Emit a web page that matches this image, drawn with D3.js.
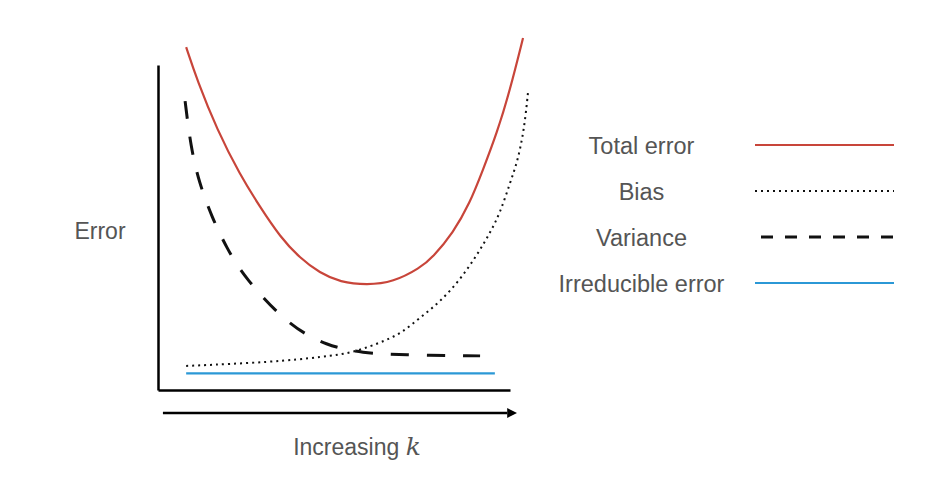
<!DOCTYPE html>
<html>
<head>
<meta charset="utf-8">
<script src="https://cdn.jsdelivr.net/npm/d3@7"></script>
<style>
  body { margin: 0; background: #fff; }
  svg text { font-family: "Liberation Sans", Arial, sans-serif; fill: #555; }
</style>
</head>
<body>
<div id="chart"></div>
<script>
// curve values (k on 0..100, error on 0..100)
const totalK   = [8, 11.1, 16.8, 23.3, 29, 34.7, 40.3, 46, 51.7, 59.4, 66.8, 74.4, 78.1, 83.8, 88.6, 92.3, 96.3, 100, 103.7];
const totalErr = [105.5, 95.4, 80, 66.2, 56.3, 47.1, 40.6, 36, 33.2, 32.3, 33.2, 37.5, 40.9, 48.3, 57.5, 67.7, 79.1, 92.3, 108.3];

const varianceK   = [7.7, 9.3, 11.7, 15.3, 19.5, 24.4, 36.9, 48, 58.2, 68.8, 91.5];
const varianceErr = [88.9, 74.8, 63.7, 53.2, 43.7, 34.8, 20, 13.5, 11.4, 10.8, 10.5];

const biasK   = [8, 32.7, 46.9, 55.4, 65.1, 69.6, 74.4, 80.1, 85.8, 90.6, 94.3, 97.2, 100, 102, 103.4, 104.3, 105.1];
const biasErr = [7.4, 8.6, 10.2, 11.4, 15.4, 17.9, 22.2, 27.1, 33.9, 41.5, 48.3, 54.5, 63.7, 69.9, 76.9, 83.1, 91.4];

const irreducibleK   = [8, 95.7];
const irreducibleErr = [5.1, 5.1];

const legendLabels = ["Total error", "Bias", "Variance", "Irreducible error"];

const width = 928;
const height = 490;

const svg = d3.select("#chart")
  .append("svg")
  .attr("width", width)
  .attr("height", height);

const x = d3.scaleLinear().domain([0, 100]).range([158, 510]);
const y = d3.scaleLinear().domain([0, 100]).range([390, 65]);

// styles for each series, same order as legendLabels
const styles = [
  { color: "#c8453a", width: 2.2, dash: null,    legendDash: null },
  { color: "#111",    width: 2,   dash: "2,4",   legendDash: "2,4" },
  { color: "#111",    width: 3,   dash: "18,18", legendDash: "12,12" },
  { color: "#2b98d6", width: 2.2, dash: null,    legendDash: null }
];

const series = [
  d3.zip(totalK, totalErr),
  d3.zip(biasK, biasErr),
  d3.zip(varianceK, varianceErr),
  d3.zip(irreducibleK, irreducibleErr)
];

// axes: only the domain lines, no ticks
svg.append("g")
  .attr("transform", `translate(${x(0)},0)`)
  .call(d3.axisLeft(y).tickValues([]).tickSizeOuter(0))
  .select(".domain")
  .attr("stroke", "#000")
  .attr("stroke-width", 2.5);

svg.append("g")
  .attr("transform", `translate(0,${y(0)})`)
  .call(d3.axisBottom(x).tickValues([]).tickSizeOuter(0))
  .select(".domain")
  .attr("stroke", "#000")
  .attr("stroke-width", 2.5);

// arrow under the x axis
svg.append("defs")
  .append("marker")
  .attr("id", "arrow")
  .attr("viewBox", "0 0 10 10")
  .attr("refX", 0)
  .attr("refY", 5)
  .attr("markerUnits", "userSpaceOnUse")
  .attr("markerWidth", 10)
  .attr("markerHeight", 10)
  .attr("orient", "auto")
  .append("path")
  .attr("d", "M0,0L10,5L0,10Z")
  .attr("fill", "#000");

svg.append("line")
  .attr("x1", x(1.4))
  .attr("x2", x(99.2))
  .attr("y1", 413)
  .attr("y2", 413)
  .attr("stroke", "#000")
  .attr("stroke-width", 2.5)
  .attr("marker-end", "url(#arrow)");

// curves (basis smooths out small reading errors)
const line = d3.line()
  .x(d => x(d[0]))
  .y(d => y(d[1]))
  .curve(d3.curveBasis);

series.forEach((s, i) => {
  svg.append("path")
    .datum(s)
    .attr("d", line)
    .attr("fill", "none")
    .attr("stroke", styles[i].color)
    .attr("stroke-width", styles[i].width)
    .attr("stroke-dasharray", styles[i].dash);
});

// axis labels
svg.append("text")
  .attr("x", 100)
  .attr("y", 239)
  .attr("text-anchor", "middle")
  .style("font-size", "23px")
  .text("Error");

const xLabel = svg.append("text")
  .attr("x", 357)
  .attr("y", 455)
  .attr("text-anchor", "middle")
  .style("font-size", "23px");
xLabel.append("tspan").text("Increasing ");
xLabel.append("tspan")
  .style("font-family", "'DejaVu Serif', 'Liberation Serif', serif")
  .style("font-style", "italic")
  .style("font-size", "25px")
  .text("k");

// legend
const legend = svg.append("g");
legendLabels.forEach((label, i) => {
  const yy = 154 + i * 46;
  legend.append("text")
    .attr("x", 641.5)
    .attr("y", yy)
    .attr("text-anchor", "middle")
    .style("font-size", "23.5px")
    .text(label);
  legend.append("line")
    .attr("x1", i === 2 ? 761 : 755)
    .attr("x2", 894)
    .attr("y1", yy - 9)
    .attr("y2", yy - 9)
    .attr("stroke", styles[i].color)
    .attr("stroke-width", styles[i].width)
    .attr("stroke-dasharray", styles[i].legendDash);
});
</script>
</body>
</html>
